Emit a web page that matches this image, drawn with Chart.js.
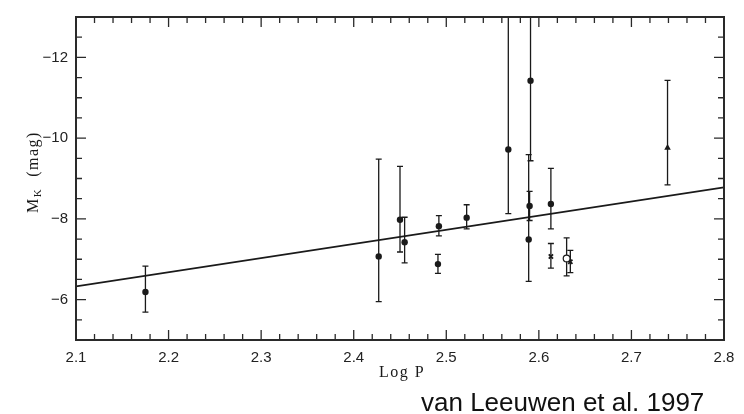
<!DOCTYPE html>
<html>
<head>
<meta charset="utf-8">
<script src="https://cdn.jsdelivr.net/npm/chart.js@4.4.1/dist/chart.umd.min.js"></script>
<style>
  html, body { margin: 0; padding: 0; background: #fff; }
  canvas { display: block; }
</style>
</head>
<body>
<canvas id="chart" width="744" height="414"></canvas>
<script>
'use strict';

// Cepheid-like sample: log period vs absolute K magnitude
const logP   = [2.175, 2.427, 2.450, 2.455, 2.492, 2.491, 2.522, 2.567, 2.591, 2.590, 2.589, 2.613, 2.613, 2.630, 2.634, 2.739];
const magK   = [-6.19, -7.07, -7.98, -7.42, -7.82, -6.88, -8.03, -9.72, -11.42, -8.32, -7.49, -8.37, -7.07, -7.02, -6.94, -9.76];
// ends of the error bars (bright end, faint end)
const errBright = [-6.83, -9.48, -9.30, -8.04, -8.08, -7.12, -8.35, -14.0, -14.0, -8.68, -9.59, -9.25, -7.39, -7.53, -7.22, -11.43];
const errFaint  = [-5.69, -5.95, -7.18, -6.91, -7.58, -6.65, -7.75, -8.13, -9.44, -7.96, -6.45, -7.75, -6.78, -6.59, -6.67, -8.84];
const marker = ['dot', 'dot', 'dot', 'dot', 'dot', 'dot', 'dot', 'dot', 'dot', 'dot', 'dot', 'dot', 'cross', 'open', 'cross', 'triangle'];

// fitted P-L relation, end points
const fitX = [2.1, 2.8];
const fitY = [-6.33, -8.78];

const xTicks = [2.1, 2.2, 2.3, 2.4, 2.5, 2.6, 2.7, 2.8];
const yTicks = [-12, -10, -8, -6];

const ink = '#1a1a1a';
const sans = '"Liberation Sans", Arial, sans-serif';
const serif = '"Liberation Serif", "DejaVu Serif", serif';

function pointsFor(kind) {
  const out = [];
  for (let i = 0; i < logP.length; i++) {
    if (marker[i] === kind) out.push({x: logP[i], y: magK[i]});
  }
  return out;
}

// vertical error bars with small caps, clipped to the plot box
const errorBars = {
  id: 'errorBars',
  beforeDatasetsDraw(chart) {
    const {ctx, chartArea: a, scales: {x, y}} = chart;
    ctx.save();
    ctx.beginPath();
    ctx.rect(a.left, a.top, a.right - a.left, a.bottom - a.top);
    ctx.clip();
    ctx.strokeStyle = ink;
    ctx.lineWidth = 1.3;
    for (let i = 0; i < logP.length; i++) {
      const px = x.getPixelForValue(logP[i]);
      const t = y.getPixelForValue(errBright[i]);
      const b = y.getPixelForValue(errFaint[i]);
      ctx.beginPath();
      ctx.moveTo(px, t); ctx.lineTo(px, b);
      ctx.moveTo(px - 3, t); ctx.lineTo(px + 3, t);
      ctx.moveTo(px - 3, b); ctx.lineTo(px + 3, b);
      ctx.stroke();
    }
    ctx.restore();
  }
};

// box, inward ticks on all four sides, axis titles and caption
const frame = {
  id: 'frame',
  afterDraw(chart) {
    const {ctx, chartArea: a, scales: {x, y}} = chart;
    ctx.save();
    ctx.strokeStyle = '#2a2a2a';
    ctx.lineWidth = 2;
    ctx.strokeRect(a.left, a.top, a.right - a.left, a.bottom - a.top);

    ctx.lineWidth = 1.3;
    ctx.beginPath();
    // x: minor every 0.02, major every 0.1
    for (let i = 0; i <= 35; i++) {
      const px = x.getPixelForValue(2.1 + i * 0.02);
      const len = i % 5 === 0 ? 10 : 6;
      ctx.moveTo(px, a.bottom); ctx.lineTo(px, a.bottom - len);
      ctx.moveTo(px, a.top); ctx.lineTo(px, a.top + len);
    }
    // y: minor every 0.5, major every 2
    for (let i = 1; i < 16; i++) {
      const v = -13 + i * 0.5;
      const py = y.getPixelForValue(v);
      const len = v % 2 === 0 ? 10 : 6;
      ctx.moveTo(a.left, py); ctx.lineTo(a.left + len, py);
      ctx.moveTo(a.right, py); ctx.lineTo(a.right - len, py);
    }
    ctx.stroke();

    ctx.fillStyle = ink;
    ctx.letterSpacing = '1.5px';
    ctx.font = '16px ' + serif;
    ctx.textAlign = 'center';
    ctx.textBaseline = 'alphabetic';
    ctx.fillText('Log P', (a.left + a.right) / 2 + 2, 377);

    // rotated y title with subscript K
    ctx.save();
    ctx.translate(38, 172);
    ctx.rotate(-Math.PI / 2);
    ctx.textAlign = 'left';
    ctx.font = '16px ' + serif;
    const wM = ctx.measureText('M').width;
    const wRest = ctx.measureText('  (mag)').width;
    ctx.font = '11px ' + serif;
    const wK = ctx.measureText('K').width;
    let cx = -(wM + wK + wRest) / 2;
    ctx.font = '16px ' + serif;
    ctx.fillText('M', cx, 0);
    cx += wM;
    ctx.font = '11px ' + serif;
    ctx.fillText('K', cx, 3);
    cx += wK;
    ctx.font = '16px ' + serif;
    ctx.fillText('  (mag)', cx, 0);
    ctx.restore();

    ctx.letterSpacing = '0px';
    ctx.font = '26px ' + sans;
    ctx.textAlign = 'left';
    ctx.fillStyle = '#111';
    ctx.fillText('van Leeuwen et al. 1997', 421, 411);
    ctx.restore();
  }
};

const ctx = document.getElementById('chart').getContext('2d');

new Chart(ctx, {
  type: 'scatter',
  data: {
    datasets: [
      {
        type: 'line',
        data: fitX.map((v, i) => ({x: v, y: fitY[i]})),
        borderColor: ink,
        borderWidth: 1.7,
        pointRadius: 0,
        order: 5
      },
      {
        data: pointsFor('dot'),
        pointStyle: 'circle',
        pointRadius: 3.2,
        backgroundColor: ink,
        borderColor: ink,
        borderWidth: 0
      },
      {
        data: pointsFor('open'),
        pointStyle: 'circle',
        pointRadius: 3.4,
        backgroundColor: '#fff',
        borderColor: ink,
        borderWidth: 1.2
      },
      {
        data: pointsFor('cross'),
        pointStyle: 'crossRot',
        pointRadius: 3,
        borderColor: ink,
        borderWidth: 1.8
      },
      {
        data: pointsFor('triangle'),
        pointStyle: 'triangle',
        pointRadius: 3.8,
        backgroundColor: ink,
        borderColor: ink,
        borderWidth: 0
      }
    ]
  },
  options: {
    responsive: false,
    animation: false,
    layout: { padding: { top: 9, right: 20, left: 0, bottom: 0 } },
    plugins: { legend: { display: false }, tooltip: { enabled: false } },
    scales: {
      x: {
        type: 'linear',
        min: 2.1,
        max: 2.8,
        grid: { display: false, drawTicks: false },
        border: { display: false },
        afterBuildTicks: s => { s.ticks = xTicks.map(v => ({value: v})); },
        afterFit: s => { s.height = 74; },
        ticks: {
          padding: 9,
          color: '#222',
          font: { family: sans, size: 15 },
          maxRotation: 0,
          autoSkip: false,
          callback: v => v.toFixed(1)
        }
      },
      y: {
        type: 'linear',
        min: -13,
        max: -5,
        reverse: true,
        grid: { display: false, drawTicks: false },
        border: { display: false },
        afterBuildTicks: s => { s.ticks = yTicks.map(v => ({value: v})); },
        afterFit: s => { s.width = 76; },
        ticks: {
          padding: 8,
          color: '#222',
          font: { family: sans, size: 15 },
          callback: v => '\u2212' + Math.abs(v)
        }
      }
    }
  },
  plugins: [errorBars, frame]
});
</script>
</body>
</html>
